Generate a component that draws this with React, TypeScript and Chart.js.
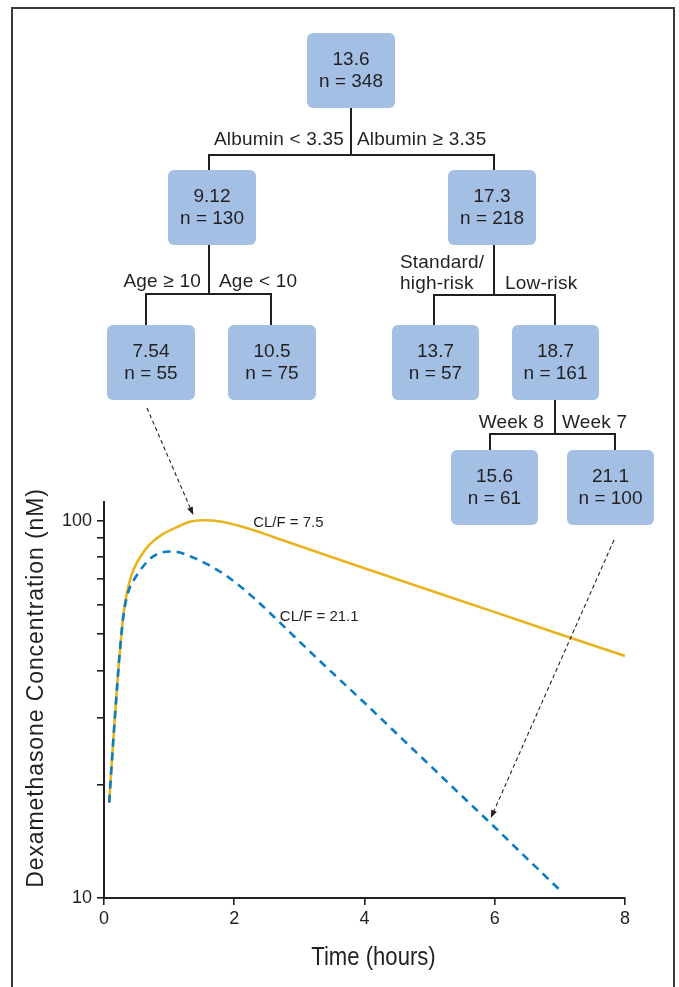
import React, { useEffect, useRef } from "react";
import { Chart, registerables } from "chart.js";

Chart.register(...registerables);

// Predicted dexamethasone profile, CL/F = 21.1 (dashed)
const timeFast = [0.08, 0.107, 0.138, 0.169, 0.2, 0.23, 0.261, 0.292, 0.33, 0.384, 0.45, 0.55, 0.7, 0.85, 1.0, 1.15, 1.4, 1.6, 1.9, 2.3, 2.6, 2.9, 3.5, 4.0, 4.5, 5.0, 5.5, 6.0, 6.5, 7.0];
const concFast = [17.9, 21.2, 25.5, 30.4, 36.1, 42.3, 48.6, 55.0, 60.5, 65.6, 69.2, 73.6, 79.0, 81.9, 82.8, 82.4, 79.4, 76.4, 71.0, 62.4, 55.8, 49.7, 39.6, 32.9, 27.2, 22.5, 18.6, 15.4, 12.7, 10.5];

// Predicted dexamethasone profile, CL/F = 7.5 (solid)
const timeSlow = [0.08, 0.107, 0.138, 0.169, 0.2, 0.23, 0.261, 0.292, 0.33, 0.384, 0.461, 0.568, 0.706, 0.891, 1.12, 1.32, 1.5, 1.81, 2.24, 2.6, 3.0, 4.0, 5.0, 6.0, 7.0, 8.0];
const concSlow = [17.9, 21.2, 25.5, 30.4, 36.1, 42.3, 48.6, 55.0, 61.4, 68.1, 74.6, 80.7, 86.6, 91.8, 96.1, 99.3, 100.2, 99.3, 95.0, 90.5, 85.6, 74.8, 65.4, 57.2, 50.0, 43.8];

const seriesNames = ["CL/F = 21.1", "CL/F = 7.5"];

// Axis ticks and titles
const xTickValues = [0, 2, 4, 6, 8];
const yTickValues = [10, 20, 30, 40, 50, 60, 70, 80, 90, 100];
const yTickLabels = ["10", "", "", "", "", "", "", "", "", "100"];
const xTitle = "Time (hours)";
const yTitle = "Dexamethasone Concentration (nM)";

// Curve labels anchored in data space (time, concentration)
const curveLabelTime = [2.29, 2.7];
const curveLabelConc = [98.8, 55.6];
const curveLabelText = ["CL/F = 7.5", "CL/F = 21.1"];

// Arrow targets in data space (terminal nodes 7.54 and 21.1)
const arrowTime = [1.37, 5.94];
const arrowConc = [103.5, 16.3];

// Regression tree nodes
const nodeMeans = ["13.6", "9.12", "17.3", "7.54", "10.5", "13.7", "18.7", "15.6", "21.1"];
const nodeCounts = [348, 130, 218, 55, 75, 57, 161, 61, 100];
const splitLeft = ["Albumin < 3.35", "Age \u2265 10", "Standard/\nhigh-risk", "Week 8"];
const splitRight = ["Albumin \u2265 3.35", "Age < 10", "Low-risk", "Week 7"];

const INK = "#231F20";
const BOX_FILL = "#A3BFE3";
const GOLD = "#E9B41F";
const BLUE = "#0A7CC1";
const SANS = '"Liberation Sans", Arial, Helvetica, sans-serif';

// Page layout of the tree (pixels)
const boxLayout: [number, number, number, number][] = [
  [307, 33, 88, 75],
  [168, 170, 88, 75],
  [448, 170, 88, 75],
  [107, 325, 88, 75],
  [228, 325, 88, 75],
  [392, 325, 87, 75],
  [512, 325, 87, 75],
  [451, 450, 87, 75],
  [567, 450, 87, 75],
];
// vertical connectors: x, y1, y2
const vLines: [number, number, number][] = [
  [351, 108, 155],
  [209, 155, 170],
  [494, 155, 170],
  [209, 245, 294],
  [146, 294, 325],
  [271, 294, 325],
  [494, 244, 295],
  [434, 295, 325],
  [555, 295, 325],
  [555, 400, 434],
  [490, 434, 450],
  [615, 434, 450],
];
// horizontal connectors: y, x1, x2
const hLines: [number, number, number][] = [
  [155, 209, 494],
  [294, 146, 271],
  [295, 434, 555],
  [434, 490, 615],
];
// split label anchors: left label right edge / right label left edge, centre y of last line
const splitAnchors: [number, number, number][] = [
  [344, 357, 139],
  [201, 219, 281],
  [484, 505, 283],
  [544, 562, 422],
];
const arrowStarts: [number, number][] = [
  [147, 408],
  [614, 540],
];

const annotations = {
  id: "treeAnnotations",
  afterDatasetsDraw(chart: any) {
    const { ctx, chartArea } = chart;
    const xs = chart.scales.x;
    const ys = chart.scales.y;
    ctx.save();
    ctx.fillStyle = INK;
    ctx.textBaseline = "middle";
    ctx.textAlign = "center";

    // axis titles
    ctx.save();
    ctx.font = `26px ${SANS}`;
    ctx.translate((chartArea.left + chartArea.right) / 2 + 9, chartArea.bottom + 60);
    ctx.scale(0.85, 1);
    ctx.fillText(xTitle, 0, 0);
    ctx.restore();

    ctx.save();
    ctx.font = `23px ${SANS}`;
    (ctx as any).letterSpacing = "0.9px";
    ctx.translate(chartArea.left - 67, (chartArea.top + chartArea.bottom) / 2 - 12);
    ctx.rotate(-Math.PI / 2);
    ctx.fillText(yTitle, 0, 0);
    ctx.restore();

    ctx.font = `15px ${SANS}`;
    ctx.textAlign = "left";
    curveLabelText.forEach((t, i) => {
      ctx.fillText(t, xs.getPixelForValue(curveLabelTime[i]), ys.getPixelForValue(curveLabelConc[i]));
    });

    arrowStarts.forEach(([sx, sy], i) => {
      const tx = xs.getPixelForValue(arrowTime[i]);
      const ty = ys.getPixelForValue(arrowConc[i]);
      const ang = Math.atan2(ty - sy, tx - sx);
      const head = 8;
      const half = 3;
      const bx = tx - head * Math.cos(ang);
      const by = ty - head * Math.sin(ang);
      ctx.strokeStyle = INK;
      ctx.lineWidth = 1.1;
      ctx.setLineDash([4, 3]);
      ctx.beginPath();
      ctx.moveTo(sx, sy);
      ctx.lineTo(bx, by);
      ctx.stroke();
      ctx.setLineDash([]);
      ctx.beginPath();
      ctx.moveTo(tx, ty);
      ctx.lineTo(bx + half * Math.sin(ang), by - half * Math.cos(ang));
      ctx.lineTo(bx - half * Math.sin(ang), by + half * Math.cos(ang));
      ctx.closePath();
      ctx.fill();
    });
    ctx.restore();
  },
};

function ConcentrationChart() {
  const ref = useRef<HTMLCanvasElement | null>(null);

  useEffect(() => {
    if (!ref.current) return;
    const tickFont = { family: SANS, size: 18 };
    const chart = new Chart(ref.current, {
      type: "line",
      data: {
        datasets: [
          {
            label: seriesNames[0],
            data: timeFast.map((t, i) => ({ x: t, y: concFast[i] })),
            borderColor: BLUE,
            borderWidth: 2.6,
            borderDash: [8, 6],
            pointRadius: 0,
            cubicInterpolationMode: "monotone",
            fill: false,
          },
          {
            label: seriesNames[1],
            data: timeSlow.map((t, i) => ({ x: t, y: concSlow[i] })),
            borderColor: GOLD,
            borderWidth: 2.6,
            pointRadius: 0,
            cubicInterpolationMode: "monotone",
            fill: false,
          },
        ],
      },
      options: {
        responsive: false,
        animation: false,
        devicePixelRatio: 1,
        layout: { padding: { top: 502, left: 14, right: 54, bottom: 0 } },
        plugins: { legend: { display: false }, tooltip: { enabled: false } },
        scales: {
          x: {
            type: "linear",
            position: "bottom",
            min: 0,
            max: 8,
            afterBuildTicks: (s: any) => {
              s.ticks = xTickValues.map((v) => ({ value: v }));
            },
            afterFit: (s: any) => {
              s.height = 89;
            },
            border: { display: true, color: INK, width: 2 },
            grid: { drawOnChartArea: false, drawTicks: true, tickLength: 7, color: INK, lineWidth: 1.6 },
            ticks: { color: INK, font: tickFont, padding: 3, maxRotation: 0, autoSkip: false },
          },
          y: {
            type: "logarithmic",
            position: "left",
            min: 10,
            max: 112,
            afterBuildTicks: (s: any) => {
              s.ticks = yTickValues.map((v) => ({ value: v }));
            },
            afterFit: (s: any) => {
              s.width = 90;
            },
            border: { display: true, color: INK, width: 2 },
            grid: { drawOnChartArea: false, drawTicks: true, tickLength: 7, color: INK, lineWidth: 1.6 },
            ticks: {
              color: INK,
              font: tickFont,
              padding: 5,
              autoSkip: false,
              callback: (v: any) => {
                const k = yTickValues.indexOf(Number(v));
                return k >= 0 ? yTickLabels[k] : "";
              },
            },
          },
        },
      },
      plugins: [annotations],
    } as any);
    return () => chart.destroy();
  }, []);

  return (
    <canvas
      ref={ref}
      width={679}
      height={987}
      style={{ position: "absolute", left: 0, top: 0, width: 679, height: 987 }}
    />
  );
}

function Tree() {
  const text: React.CSSProperties = {
    position: "absolute",
    fontFamily: SANS,
    fontSize: 19,
    lineHeight: "22px",
    color: INK,
    whiteSpace: "pre",
  };
  return (
    <>
      {vLines.map(([x, y1, y2], i) => (
        <div key={"v" + i} style={{ position: "absolute", left: x - 1, top: y1, width: 2, height: y2 - y1, background: INK }} />
      ))}
      {hLines.map(([y, x1, x2], i) => (
        <div key={"h" + i} style={{ position: "absolute", left: x1 - 1, top: y - 1, width: x2 - x1 + 2, height: 2, background: INK }} />
      ))}
      {boxLayout.map(([l, t, w, h], i) => (
        <div
          key={"b" + i}
          style={{
            position: "absolute",
            left: l,
            top: t,
            width: w,
            height: h,
            background: BOX_FILL,
            borderRadius: 6,
          }}
        >
          <div style={{ ...text, left: 0, width: w, top: 15, textAlign: "center" }}>
            {nodeMeans[i]}
            {"\n"}
            {"n = " + nodeCounts[i]}
          </div>
        </div>
      ))}
      {splitAnchors.map(([lx, rx, cy], i) => {
        const lines = splitLeft[i].split("\n").length;
        return (
          <React.Fragment key={"s" + i}>
            <div
              style={{
                ...text,
                letterSpacing: "0.2px",
                textAlign: "left",
                top: cy - 11 - (lines - 1) * 21,
                ...(lines > 1 ? { left: 400, lineHeight: "21px" } : { right: 679 - lx }),
              }}
            >
              {splitLeft[i]}
            </div>
            <div style={{ ...text, letterSpacing: "0.2px", left: rx, top: cy - 11 }}>{splitRight[i]}</div>
          </React.Fragment>
        );
      })}
    </>
  );
}

export default function App() {
  return (
    <div
      style={{
        position: "absolute",
        left: 0,
        top: 0,
        width: 679,
        height: 987,
        overflow: "hidden",
        background: "#ffffff",
      }}
    >
      <ConcentrationChart />
      <div
        style={{
          position: "absolute",
          left: 11,
          top: 7,
          width: 660,
          height: 1100,
          borderLeft: "2px solid #3a3a3a",
          borderTop: "2px solid #3a3a3a",
          borderRight: "2px solid #3a3a3a",
          pointerEvents: "none",
        }}
      />
      <Tree />
    </div>
  );
}
